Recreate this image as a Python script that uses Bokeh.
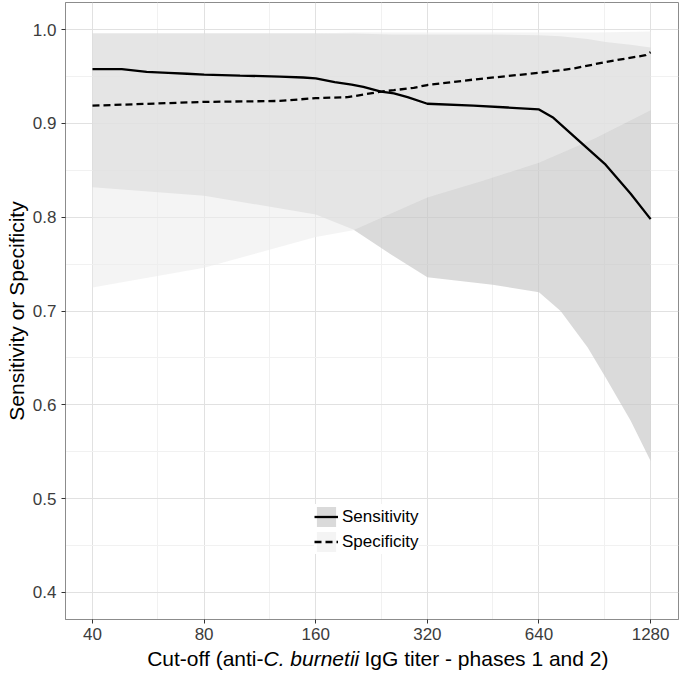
from bokeh.plotting import figure
from bokeh.layouts import column
from bokeh.models import FixedTicker, Legend, LegendItem, Range1d
from bokeh.core.properties import value
from bokeh.embed import file_html
from bokeh.resources import INLINE

# ---- data ----
x_ticks = [40, 80, 160, 320, 640, 1280]
x_tick_labels = ["40", "80", "160", "320", "640", "1280"]
x_minor = [60, 120, 240, 480, 960]
y_ticks = [0.4, 0.5, 0.6, 0.7, 0.8, 0.9, 1.0]
y_tick_labels = ["0.4", "0.5", "0.6", "0.7", "0.8", "0.9", "1.0"]
y_minor = [0.45, 0.55, 0.65, 0.75, 0.85, 0.95]

sens_x = [40, 48, 56, 64, 72, 80, 100, 128, 148, 160, 180, 200, 215, 240, 260, 283,
          320, 426, 527, 640, 700, 818, 968, 1131, 1280]
sens_y = [0.958, 0.958, 0.955, 0.954, 0.953, 0.952, 0.951, 0.950, 0.949, 0.948, 0.944,
          0.9415, 0.939, 0.934, 0.932, 0.928, 0.921, 0.919, 0.917, 0.915, 0.906, 0.882,
          0.856, 0.825, 0.798]

spec_x = [40, 80, 128, 160, 195, 240, 260, 294, 320, 430, 640, 794, 970, 1240, 1280]
spec_y = [0.919, 0.923, 0.924, 0.927, 0.928, 0.934, 0.9355, 0.938, 0.941, 0.947, 0.954,
          0.9586, 0.9656, 0.9728, 0.976]

sens_ci_x = [40, 80, 160, 202, 256, 320, 480, 640, 732, 866, 968, 1131, 1280]
sens_lo = [0.832, 0.823, 0.803, 0.787, 0.760, 0.736, 0.728, 0.720, 0.700, 0.661, 0.629,
           0.583, 0.540]
sens_hi = [0.996, 0.996, 0.996, 0.996, 0.995, 0.995, 0.995, 0.994, 0.993, 0.990, 0.987,
           0.984, 0.981]

spec_ci_x = [40, 80, 160, 202, 320, 452, 640, 905, 1280]
spec_lo = [0.725, 0.746, 0.779, 0.786, 0.821, 0.839, 0.858, 0.884, 0.914]
spec_hi = [0.996, 0.996, 0.996, 0.997, 0.997, 0.997, 0.997, 0.997, 0.998]

series_labels = ["Sensitivity", "Specificity"]
x_title_parts = ["Cut-off (anti-", "C. burnetii", "IgG titer - phases 1 and 2)"]
y_title = "Sensitivity or Specificity"

FONT = "Liberation Sans"
W = 680
H_MAIN = 645
H_TITLE = 35
BL, BR = 65, 2

p = figure(width=W, height=H_MAIN, x_axis_type="log",
           x_range=Range1d(33.83, 1522), y_range=Range1d(0.371, 1.029),
           output_backend="svg", toolbar_location=None,
           min_border_left=BL, min_border_right=BR, min_border_top=2, min_border_bottom=26)
p.background_fill_color = "white"
p.border_fill_color = "white"
p.outline_line_color = "#8c8c8c"
p.outline_line_width = 1

# ribbons
r_sens_area = p.varea(x=sens_ci_x, y1=sens_lo, y2=sens_hi, fill_color="#c6c6c6", fill_alpha=0.65)
r_spec_area = p.varea(x=spec_ci_x, y1=spec_lo, y2=spec_hi, fill_color="#ececec", fill_alpha=0.6)

# lines
r_sens_line = p.line(sens_x, sens_y, line_color="black", line_width=2.3)
r_spec_line = p.line(spec_x, spec_y, line_color="black", line_width=2.3, line_dash="7 4")

# axes
p.xaxis.ticker = FixedTicker(ticks=x_ticks, minor_ticks=x_minor)
p.xaxis.major_label_overrides = {t: l for t, l in zip(x_ticks, x_tick_labels)}
p.yaxis.ticker = FixedTicker(ticks=y_ticks, minor_ticks=y_minor)
p.yaxis.major_label_overrides = {t: l for t, l in zip(y_ticks, y_tick_labels)}

for ax in (p.xaxis, p.yaxis):
    ax.axis_line_color = "#8c8c8c"
    ax.major_tick_line_color = "#333333"
    ax.major_tick_in = 0
    ax.major_tick_out = 4
    ax.minor_tick_line_color = None
    ax.major_label_text_font = FONT
    ax.major_label_text_font_size = "17px"
    ax.major_label_text_color = "#3c3c3c"
    ax.axis_label_text_font = FONT
    ax.axis_label_text_font_size = "21px"
    ax.axis_label_text_font_style = "normal"
    ax.axis_label_text_color = "black"
    ax.axis_label_standoff = 2

p.xaxis.major_label_standoff = 4
p.yaxis.major_label_standoff = 5
p.yaxis.axis_label = y_title
p.xaxis.axis_label = None

# grid
p.grid.grid_line_color = "#e1e1e1"
p.grid.grid_line_width = 1
p.grid.minor_grid_line_color = "#f1f1f1"
p.grid.minor_grid_line_width = 1

legend = Legend(items=[
    LegendItem(label=series_labels[0], renderers=[r_sens_area, r_sens_line]),
    LegendItem(label=series_labels[1], renderers=[r_spec_area, r_spec_line]),
], location=(249, 65))
legend.glyph_width = 24
legend.glyph_height = 25
legend.spacing = 0
legend.padding = 8
legend.margin = 0
legend.label_standoff = 4
legend.label_text_font = FONT
legend.label_text_font_size = "17px"
legend.label_text_color = "black"
legend.border_line_color = None
legend.background_fill_color = "white"
legend.background_fill_alpha = 1
p.add_layout(legend)

# x-axis title strip (allows the italic species name); x in page pixels
t = figure(width=W, height=H_TITLE, x_range=Range1d(BL, W - BR), y_range=Range1d(0, H_TITLE),
           output_backend="svg", toolbar_location=None,
           x_axis_location=None, y_axis_location=None,
           min_border_left=BL, min_border_right=BR, min_border_top=0, min_border_bottom=0)
t.outline_line_color = None
t.grid.visible = False
t.background_fill_color = "white"
t.border_fill_color = "white"

split_x = 263
part3_x = 364
base_y = 22
t.text(x=[split_x], y=[base_y], text=[x_title_parts[0]], text_align="right",
       text_baseline="alphabetic", text_font=value(FONT), text_font_size="21px",
       text_color="black")
t.text(x=[split_x], y=[base_y], text=[x_title_parts[1]], text_align="left",
       text_baseline="alphabetic", text_font=value(FONT), text_font_size="21px",
       text_font_style="italic", text_color="black")
t.text(x=[part3_x], y=[base_y], text=[x_title_parts[2]], text_align="left",
       text_baseline="alphabetic", text_font=value(FONT), text_font_size="21px",
       text_color="black")

layout = column(p, t, spacing=0)
open("out.html", "w").write(file_html(layout, INLINE))
